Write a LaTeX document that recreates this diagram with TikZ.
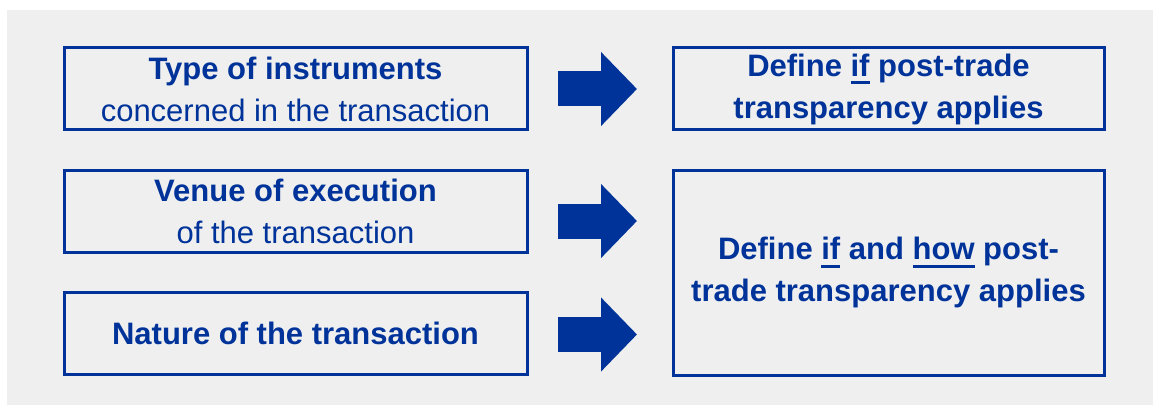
\documentclass[tikz,border=0pt]{standalone}
\usepackage{fontspec}
\setmainfont{Liberation Sans}
\usetikzlibrary{arrows.meta}
\definecolor{ecbblue}{HTML}{003399}
\definecolor{panelgray}{HTML}{EFEFEF}
\newcommand\ulword[1]{\setbox0\hbox{#1}\rlap{\rule[-8pt]{\wd0}{3pt}}\box0\relax}

\begin{document}
\begin{tikzpicture}[x=1pt, y=1pt, node distance=122pt,
input_box/.style={draw=ecbblue, line width=3pt, text=ecbblue, minimum width=463pt, minimum height=82pt, align=center, font=\fontsize{31}{42}\selectfont}, result_box/.style={input_box, minimum width=431pt}, block_arrow/.style={draw=ecbblue, line width=35pt, -{Triangle[length=36pt, width=72pt]}, shorten <=29.5pt, shorten >=34.5pt}]
    % Background
    \fill[panelgray] (7,0) rectangle (1153,395);
    \useasboundingbox (0,0) rectangle (1153,405);

    % Nodes
    \node (Type) at (295.5,316) [input_box] {\textbf{Type of instruments}\\concerned in the transaction};
    \node (Venue) [below of=Type, input_box] {\textbf{Venue of execution}\\of the transaction};
    \node (Nature) [below of=Venue, input_box] {\textbf{Nature of the transaction}};
    \node (If) [right of=Type, xshift=471pt, result_box] {\textbf{Define \ulword{if} post-trade}\\\textbf{transparency applies}};
    \node (IfHow) [below of=If, yshift=-61.5pt, result_box, minimum height=205pt] {\textbf{Define \ulword{if} and \ulword{how} post-}\\\textbf{trade transparency applies}};

    % Arrows
    \draw[block_arrow] (Type) -- (If);
    \draw[block_arrow] ([yshift=-10pt]Venue.east) -- ([yshift=-10pt]Venue.east -| IfHow.west);
    \draw[block_arrow] ([yshift=-1.5pt]Nature.east) -- ([yshift=-1.5pt]Nature.east -| IfHow.west);

  \end{tikzpicture}
\end{document}
